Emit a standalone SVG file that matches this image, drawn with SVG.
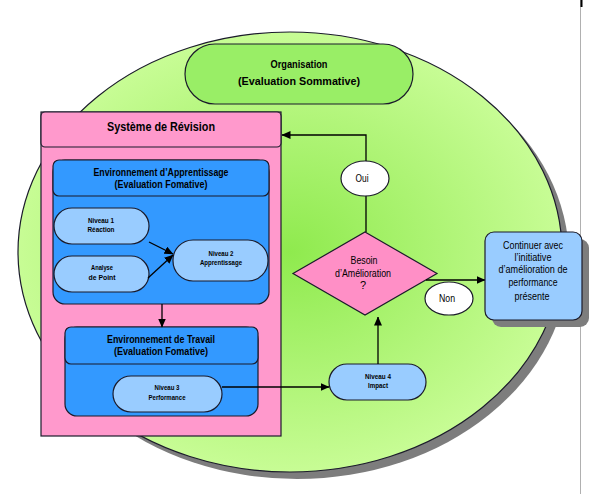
<svg xmlns="http://www.w3.org/2000/svg" width="589" height="494" viewBox="0 0 589 494">
<defs>
<radialGradient id="gEl" cx="0.5" cy="0.5" r="0.55" fx="0.5" fy="0.5">
<stop offset="0" stop-color="#8fea4e"/>
<stop offset="1" stop-color="#cdfe9c"/>
</radialGradient>
<marker id="ar" markerWidth="9" markerHeight="8" refX="8.5" refY="4" orient="auto" markerUnits="userSpaceOnUse">
<path d="M0,0 L9,4 L0,8 Z" fill="#000"/>
</marker>
<style>
.ol{stroke:#1b1b2b;stroke-width:1.2}
.pink{fill:#ff99cc}
.blue{fill:#3399ff}
.lb{fill:#99ccff}
.wh{fill:#fff}
.c{fill:none;stroke:#000;stroke-width:1.3}
text{font-family:"Liberation Sans Narrow","Liberation Sans",Arial,sans-serif;text-anchor:middle;fill:#000}
.hb{font-weight:bold;font-size:11px}
.hb12{font-weight:bold;font-size:12px}
.sm{font-size:8px;font-weight:bold}
.nm{font-size:11px}
.sh{fill:#7d7d7d}
</style>
</defs>
<rect x="0" y="0" width="589" height="494" fill="#fff"/>
<line x1="580.5" y1="0" x2="580.5" y2="494" stroke="#b0b0b0" stroke-width="1"/>
<rect x="580.5" y="0" width="2" height="7" fill="#000"/>

<g id="organisation-ellipse">
<ellipse cx="297" cy="259" rx="272" ry="220" class="sh"/>
<ellipse cx="290" cy="252" rx="272" ry="220" fill="url(#gEl)" class="ol"/>
</g>

<g id="organisation">
<rect x="185" y="44" width="228" height="60" rx="30" fill="#99ee66" class="ol"/>
<text x="299" y="68" class="hb" textLength="57" lengthAdjust="spacingAndGlyphs">Organisation</text>
<text x="299" y="85" class="hb" textLength="122" lengthAdjust="spacingAndGlyphs">(Evaluation Sommative)</text>
</g>

<g id="systeme-revision">
<rect x="41" y="112" width="240" height="324" class="pink ol"/>
<rect x="41" y="112" width="240" height="35" rx="4" class="pink ol"/>
<text x="161" y="131" class="hb12" textLength="108" lengthAdjust="spacingAndGlyphs">Système de Révision</text>
</g>

<g id="env-apprentissage">
<rect x="53" y="160" width="216" height="144" rx="12" class="blue ol"/>
<rect x="53" y="160" width="216" height="36" rx="6" class="blue ol"/>
<text x="161" y="176" class="hb" textLength="135" lengthAdjust="spacingAndGlyphs">Environnement d’Apprentissage</text>
<text x="161" y="188" class="hb" textLength="93" lengthAdjust="spacingAndGlyphs">(Evaluation Fomative)</text>
</g>

<g id="niveau1">
<rect x="54" y="208" width="95" height="36" rx="18" class="lb ol"/>
<text x="101" y="223" class="sm" textLength="26" lengthAdjust="spacingAndGlyphs">Niveau 1</text>
<text x="101" y="232" class="sm" textLength="27" lengthAdjust="spacingAndGlyphs">Réaction</text>
</g>

<g id="analyse-point">
<rect x="54" y="256" width="95" height="36" rx="18" class="lb ol"/>
<text x="102" y="270" class="sm" textLength="22" lengthAdjust="spacingAndGlyphs">Analyse</text>
<text x="102" y="280" class="sm" textLength="27" lengthAdjust="spacingAndGlyphs">de Point</text>
</g>

<g id="niveau2">
<rect x="173" y="240" width="95" height="41" rx="20" class="lb ol"/>
<text x="221" y="256" class="sm" textLength="25" lengthAdjust="spacingAndGlyphs">Niveau 2</text>
<text x="221" y="265" class="sm" textLength="42" lengthAdjust="spacingAndGlyphs">Apprentissage</text>
</g>

<g id="env-travail">
<rect x="65" y="327" width="193" height="89" rx="12" class="blue ol"/>
<rect x="65" y="327" width="193" height="37" rx="6" class="blue ol"/>
<text x="161" y="343" class="hb" textLength="108" lengthAdjust="spacingAndGlyphs">Environnement de Travail</text>
<text x="161" y="355" class="hb" textLength="94" lengthAdjust="spacingAndGlyphs">(Evaluation Fomative)</text>
</g>

<g id="niveau3">
<rect x="113" y="376" width="109" height="36" rx="18" class="lb ol"/>
<text x="167" y="390" class="sm" textLength="25" lengthAdjust="spacingAndGlyphs">Niveau 3</text>
<text x="167" y="400" class="sm" textLength="37" lengthAdjust="spacingAndGlyphs">Performance</text>
</g>

<g id="niveau4">
<rect x="329" y="364" width="97" height="36" rx="18" class="lb ol"/>
<text x="378" y="379" class="sm" textLength="26" lengthAdjust="spacingAndGlyphs">Niveau 4</text>
<text x="378" y="388" class="sm" textLength="20" lengthAdjust="spacingAndGlyphs">Impact</text>
</g>

<g id="besoin">
<polygon points="365,232 437,273.5 365,315 293,273.5" fill="#ff8fc6" class="ol"/>
<text x="364" y="264" class="nm" textLength="27" lengthAdjust="spacingAndGlyphs">Besoin</text>
<text x="363" y="277" class="nm" textLength="56" lengthAdjust="spacingAndGlyphs">d’Amélioration</text>
<text x="363" y="289" class="nm">?</text>
</g>

<g id="connectors">
<line x1="149" y1="242" x2="173" y2="254" class="c" marker-end="url(#ar)"/>
<line x1="148" y1="278" x2="173" y2="255" class="c" marker-end="url(#ar)"/>
<line x1="162" y1="304" x2="162" y2="327" class="c" marker-end="url(#ar)"/>
<line x1="222" y1="387" x2="329" y2="387" class="c" marker-end="url(#ar)"/>
<line x1="378" y1="364" x2="378" y2="317" class="c" marker-end="url(#ar)"/>
<polyline points="366,232 366,135 282,135" class="c" marker-end="url(#ar)"/>
<line x1="426" y1="280" x2="485" y2="280" class="c" marker-end="url(#ar)"/>
</g>

<g id="oui">
<ellipse cx="365" cy="178.5" rx="24" ry="17.5" class="wh ol"/>
<text x="362" y="182" class="nm" textLength="13" lengthAdjust="spacingAndGlyphs">Oui</text>
</g>

<g id="non">
<ellipse cx="449" cy="298.5" rx="24" ry="16.5" class="wh ol"/>
<text x="447" y="302" class="nm" textLength="16" lengthAdjust="spacingAndGlyphs">Non</text>
</g>

<g id="continuer">
<rect x="492" y="239" width="97" height="88" rx="9" class="sh"/>
<rect x="485" y="232" width="97" height="88" rx="9" class="lb ol"/>
<text x="533" y="249" class="nm" textLength="60" lengthAdjust="spacingAndGlyphs">Continuer avec</text>
<text x="533" y="261" class="nm" textLength="37" lengthAdjust="spacingAndGlyphs">l’initiative</text>
<text x="533" y="273" class="nm" textLength="69" lengthAdjust="spacingAndGlyphs">d’amélioration de</text>
<text x="533" y="286" class="nm" textLength="49" lengthAdjust="spacingAndGlyphs">performance</text>
<text x="532" y="300" class="nm" textLength="35" lengthAdjust="spacingAndGlyphs">présente</text>
</g>
</svg>
